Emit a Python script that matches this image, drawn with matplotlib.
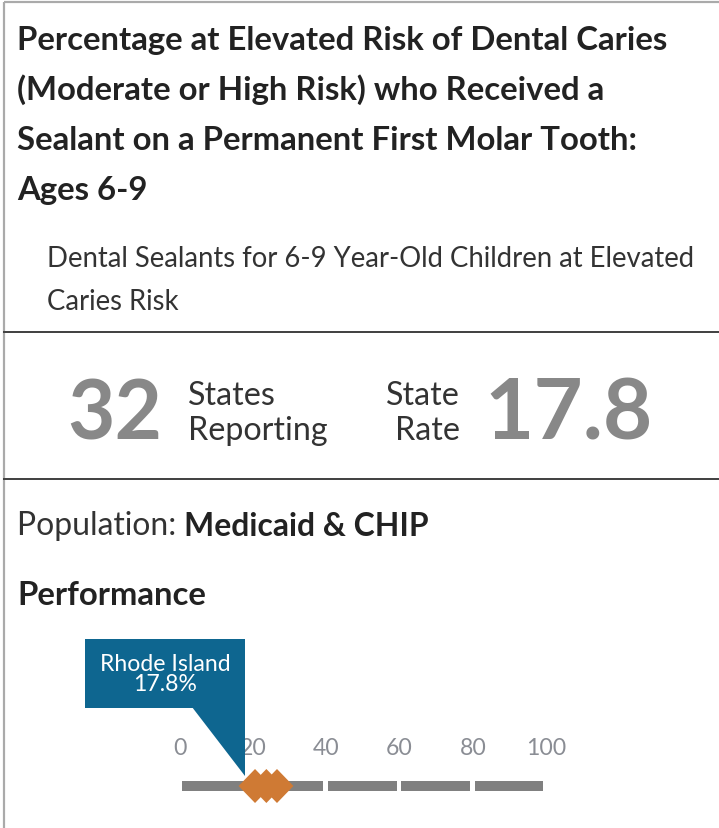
import numpy as np
import matplotlib.pyplot as plt
from matplotlib.patches import Polygon, Rectangle

# Данные карточки
title_lines = ["Percentage at Elevated Risk of Dental Caries",
               "(Moderate or High Risk) who Received a",
               "Sealant on a Permanent First Molar Tooth:",
               "Ages 6-9"]
subtitle_lines = ["Dental Sealants for 6-9 Year-Old Children at Elevated",
                  "Caries Risk"]
states_reporting = 32
state_rate = 17.8
population = "Medicaid & CHIP"
state_name = "Rhode Island"
state_value = 17.8
# маркеры распределения (ромбы)
marker_values = [20.5, 23.6, 26.5]
scale_ticks = [0, 20, 40, 60, 80, 100]
segment_edges = [0, 20, 40, 60, 80, 100]

W, H = 719, 829
plt.rcParams['font.family'] = ['Lato', 'DejaVu Sans']

fig = plt.figure(figsize=(W / 100, H / 100), dpi=100)
ax = fig.add_axes([0, 0, 1, 1])
ax.set_xlim(0, W)
ax.set_ylim(H, 0)
ax.axis('off')
renderer = fig.canvas.get_renderer()


# подбор размера шрифта под ширину текста в пикселях
def fit_size(text, target, **kw):
    t = ax.text(0, 0, text, fontsize=10, **kw)
    w = t.get_window_extent(renderer).width
    t.remove()
    return 10 * target / w


dark = '#222222'
text_col = '#333333'
grey_num = '#888888'
px = 0.72

# рамка и разделители
ax.plot([4, 4], [3, H], color='#aaaaaa', lw=2.2 * px, solid_capstyle='butt')
ax.plot([4, W], [3, 3], color='#aaaaaa', lw=2.2 * px, solid_capstyle='butt')
for yy in [333, 480]:
    ax.plot([4, W], [yy, yy], color='#444444', lw=2 * px)

# заголовок
fs_title = fit_size(title_lines[0], 653, fontweight='bold')
for i, line in enumerate(title_lines):
    ax.text(17, 50 + 50 * i, line, fontsize=fs_title, fontweight='bold',
            color=dark, va='baseline', ha='left')

fs_sub = fit_size(subtitle_lines[0], 648)
for i, line in enumerate(subtitle_lines):
    ax.text(47, 267 + 43 * i, line, fontsize=fs_sub, color=text_col,
            va='baseline', ha='left')

# крупные числа
fs_big = fit_size(str(states_reporting), 95, fontweight='bold')
fs_lab = fit_size("Reporting", 140)
ax.text(67, 439, str(states_reporting), fontsize=fs_big, fontweight='bold',
        color=grey_num, va='baseline', ha='left')
ax.text(188, 405, "States", fontsize=fs_lab, color=text_col, va='baseline')
ax.text(188, 440, "Reporting", fontsize=fs_lab, color=text_col,
        va='baseline')
ax.text(460, 405, "State", fontsize=fs_lab, color=text_col, va='baseline',
        ha='right')
ax.text(460, 440, "Rate", fontsize=fs_lab, color=text_col, va='baseline',
        ha='right')
ax.text(484, 439, f"{state_rate:.1f}", fontsize=fs_big * 1.04,
        fontweight='bold', color=grey_num, va='baseline', ha='left')

# популяция
fs_perf = fit_size("Performance", 190, fontweight='bold')
fs_pop = fs_perf * 0.97
t1 = ax.text(17, 535, "Population: ", fontsize=fs_pop, color=text_col,
             va='baseline')
ax.annotate(population, xy=(1, 0), xycoords=t1, fontsize=fs_pop,
            fontweight='bold', color=dark, va='bottom', ha='left')
ax.text(17, 605, "Performance", fontsize=fs_perf, fontweight='bold',
        color=dark, va='baseline')

# шкала результатов
x0, x1 = 180, 546
y0, y1 = 620, 820
sax = fig.add_axes([x0 / W, 1 - y1 / H, (x1 - x0) / W, (y1 - y0) / H])
sax.set_xlim(0, 100)
sax.set_ylim(y1, y0)
sax.axis('off')

for lo, hi in zip(segment_edges[:-1], segment_edges[1:]):
    sax.add_patch(Rectangle((lo + 0.5, 782), hi - lo - 1.3, 10,
                            color='#808080', lw=0, clip_on=False))

fs_tick = fit_size("100", 40)
for t in scale_ticks:
    sax.text(t, 748, str(t), fontsize=fs_tick, color='#8a8d94',
             ha='center', va='center', clip_on=False)

hw = 4.5  # полуширина ромба в единицах шкалы
for v in marker_values:
    sax.add_patch(Polygon([(v - hw, 787), (v, 770), (v + hw, 787), (v, 804)],
                          closed=True, color='#cf7a34', lw=0, clip_on=False,
                          zorder=3))

# выноска с названием штата
blue = '#0e6690'
box_w = 43.7
sax.add_patch(Rectangle((state_value - box_w, 640), box_w, 69, color=blue,
                        lw=0, clip_on=False, zorder=4))
sax.add_patch(Polygon([(state_value - 14.4, 708), (state_value, 708),
                       (state_value, 777)], closed=True, color=blue, lw=0,
                      clip_on=False, zorder=4))
fs_call = fit_size(state_name, 130)
sax.text(state_value - box_w / 2, 664, state_name, fontsize=fs_call,
         color='white', ha='center', va='center', zorder=5)
sax.text(state_value - box_w / 2, 684, f"{state_value}%", fontsize=fs_call,
         color='white', ha='center', va='center', zorder=5)

fig.savefig('out.png', dpi=100, facecolor='white')
